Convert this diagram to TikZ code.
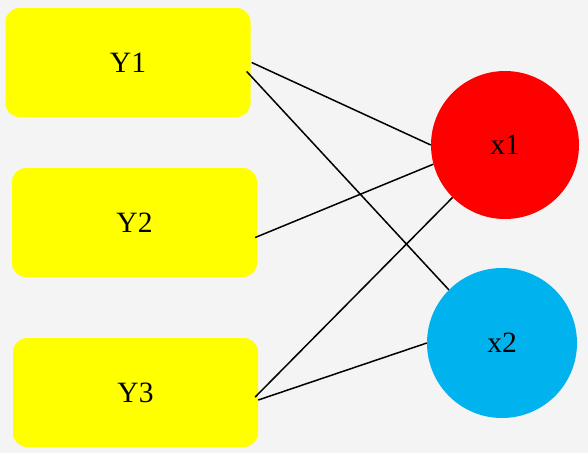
\documentclass[tikz,border=0pt]{standalone}
\usepackage{fontspec}
\setmainfont{Liberation Serif}
\usetikzlibrary{calc}
\definecolor{bg}{HTML}{F4F4F4}
\definecolor{ybox}{HTML}{FFFF00}
\definecolor{xred}{HTML}{FF0000}
\definecolor{xblue}{HTML}{00B2EE}
\begin{document}
\begin{tikzpicture}[x=1pt,y=-1pt,
  ybox/.style={fill=ybox, draw=none, rounded corners=14pt, minimum width=245pt, minimum height=109pt, inner sep=0pt, font=\fontsize{29.5}{32}\selectfont},
  xnode/.style={circle, draw=none, inner sep=0pt, font=\fontsize{29.5}{32}\selectfont},
  edge/.style={draw=black, line width=1.5pt}]
\fill[bg] (0,0) rectangle (588,453);
\useasboundingbox (0,0) rectangle (588,453);
\node[ybox] (Y1) at (128,62.5) {Y1};
\node[ybox] (Y2) at (134.5,222.5) {Y2};
\node[ybox] (Y3) at (135.5,392.5) {Y3};
\node[xnode, fill=xred, minimum size=148pt] (x1) at (505,145) {x1};
\node[xnode, fill=xblue, minimum size=150pt] (x2) at (502,343) {x2};
\draw[edge] ($(Y1.east)+(1,0)$) -- (x1.180);
\draw[edge] ($(Y1.east)+(-4,9)$) -- (x2.135);
\draw[edge] ($(Y2.east)+(-2,15)$) -- (x1.195);
\draw[edge] ($(Y3.east)+(-3,4.5)$) -- (x1.225);
\draw[edge] ($(Y3.east)+(0,7.5)$) -- (x2.180);
\end{tikzpicture}
\end{document}
